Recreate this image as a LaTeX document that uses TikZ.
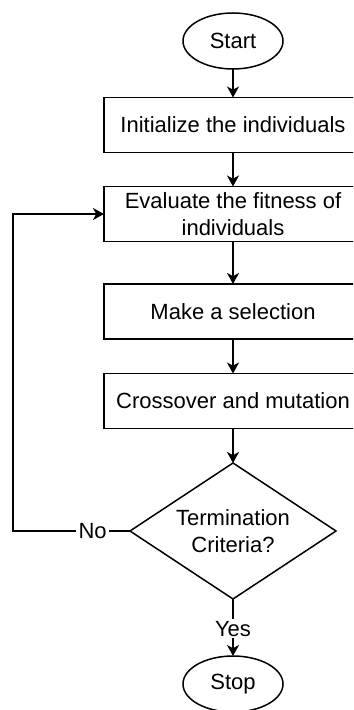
\documentclass[tikz,border=0pt]{standalone}
\usepackage{fontspec}
\setmainfont{Liberation Sans}
\usetikzlibrary{shapes.geometric,arrows.meta}
\begin{document}
\begin{tikzpicture}[x=0.5pt,y=-0.5pt,
  font=\fontsize{11}{13.4}\selectfont,
  every node/.style={inner sep=0pt, outer sep=0pt, align=center},
  procbox/.style={draw, line width=0.75pt, rectangle, minimum width=129pt, minimum height=27.5pt},
  terminal/.style={draw, line width=0.75pt, ellipse, minimum width=50pt, minimum height=28pt},
  decision/.style={draw, line width=0.75pt, diamond, aspect=1.515, minimum width=103pt, minimum height=68pt},
  flow/.style={draw, line width=0.75pt, -{Stealth[length=5.5pt,width=6pt,inset=1.6pt]}},
  lbl/.style={fill=white, inner sep=1pt}]
  \useasboundingbox (0,0) rectangle (353,710);
  \clip (0,0) rectangle (353,710);

  % flowchart nodes
  \node[terminal] (start) at (233,41) {Start};
  \node[procbox] (init) at (233,125) {Initialize the individuals};
  \node[procbox] (eval) at (233,214) {Evaluate the fitness of\\individuals};
  \node[procbox] (sel) at (233,311.5) {Make a selection};
  \node[procbox] (cross) at (233,401) {Crossover and mutation};
  \node[decision] (term) at (233,531) {Termination\\Criteria?};
  \node[terminal] (stop) at (233,684) {Stop};

  % main flow
  \draw[flow] (start) -- (init);
  \draw[flow] (init) -- (eval);
  \draw[flow] (eval) -- (sel);
  \draw[flow] (sel) -- (cross);
  \draw[flow] (cross) -- (term);
  \draw[flow] (term) -- node[lbl, pos=0.52] {Yes} (stop);

  % loop back when not finished
  \coordinate (loopbot) at (13,531);
  \coordinate (looptop) at (13,214);
  \draw[flow] (term.west) -- node[lbl, pos=0.32] {No} (loopbot) -- (looptop) -- (eval.west);
\end{tikzpicture}
\end{document}
